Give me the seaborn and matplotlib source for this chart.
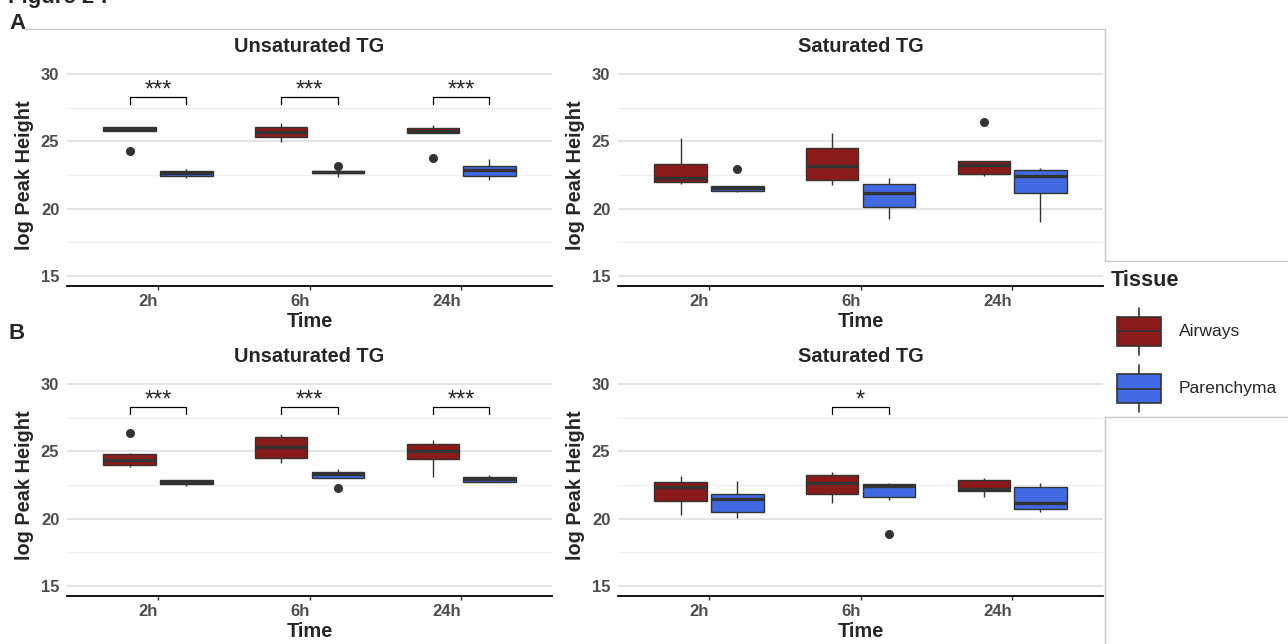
import numpy as np
import pandas as pd
import seaborn as sns
import matplotlib.pyplot as plt
from matplotlib.patches import Rectangle

sns.set_theme(style="white")
plt.rcParams['font.family'] = ['Liberation Sans', 'DejaVu Sans']

times = ["2h", "6h", "24h"]
tissues = ["Airways", "Parenchyma"]
colors = {"Airways": "#8B1A1A", "Parenchyma": "#4169E1"}

# log peak heights per time point (2h, 6h, 24h), read off the boxes
# A - unsaturated TG
a_unsat_airways = [
    [24.31, 25.79, 25.79, 25.87, 25.94, 26.02, 26.09, 26.10, 26.10],
    [24.98, 25.35, 25.72, 26.09, 26.39],
    [23.74, 25.59, 25.59, 25.69, 25.79, 25.90, 26.01, 26.11, 26.21],
]
a_unsat_parenchyma = [
    [22.30, 22.45, 22.62, 22.77, 22.95],
    [22.35, 22.50, 22.62, 22.67, 22.72, 22.77, 22.82, 22.85, 23.19],
    [22.13, 22.43, 22.87, 23.19, 23.69],
]
a_unsat_stars = ["***", "***", "***"]

# A - saturated TG
a_sat_airways = [
    [21.81, 21.98, 22.30, 23.32, 25.22],
    [21.73, 22.13, 23.19, 24.48, 25.59],
    [22.43, 22.49, 22.55, 22.90, 23.22, 23.37, 23.51, 23.51, 26.46],
]
a_sat_parenchyma = [
    [21.26, 21.28, 21.31, 21.41, 21.51, 21.61, 21.71, 21.71, 22.92],
    [19.26, 20.15, 21.14, 21.86, 22.25],
    [19.00, 21.19, 22.43, 22.87, 23.00],
]
a_sat_stars = ["", "", ""]

# B - unsaturated TG
b_unsat_airways = [
    [23.81, 23.90, 23.99, 24.18, 24.36, 24.57, 24.78, 24.90, 26.36],
    [24.11, 24.48, 25.35, 26.04, 26.26],
    [23.12, 24.41, 25.00, 25.57, 25.82],
]
b_unsat_parenchyma = [
    [22.45, 22.57, 22.72, 22.85, 22.90],
    [22.28, 23.00, 23.05, 23.17, 23.29, 23.37, 23.45, 23.55, 23.66],
    [22.70, 22.75, 22.92, 23.09, 23.22],
]
b_unsat_stars = ["***", "***", "***"]

# B - saturated TG
b_sat_airways = [
    [20.30, 21.31, 22.38, 22.70, 23.19],
    [21.14, 21.86, 22.62, 23.24, 23.49],
    [21.58, 22.05, 22.18, 22.85, 23.04],
]
b_sat_parenchyma = [
    [20.02, 20.47, 21.44, 21.81, 22.80],
    [18.86, 21.39, 21.63, 22.04, 22.45, 22.53, 22.60, 22.64, 22.67],
    [20.47, 20.69, 21.14, 22.35, 22.67],
]
b_sat_stars = ["", "*", ""]


def make_df(airways, parenchyma):
    rows = []
    for tissue, groups in (("Airways", airways), ("Parenchyma", parenchyma)):
        for t, vals in zip(times, groups):
            for v in vals:
                rows.append((t, tissue, v))
    return pd.DataFrame(rows, columns=["Time", "Tissue", "value"])


W, H = 1288, 644
fig = plt.figure(figsize=(W / 100, H / 100), dpi=100)


def px_axes(x0, y0, x1, y1, **kw):
    return fig.add_axes([x0 / W, 1 - y1 / H, (x1 - x0) / W, (y1 - y0) / H], **kw)


# overlay for panel tags and patchwork borders
oax = px_axes(0, 0, W, H)
oax.set_xlim(0, W)
oax.set_ylim(H, 0)
oax.axis("off")
border = "#C8C8C8"
for xs, ys in [([25, 1105], [29, 29]), ([1105, 1105], [29, 261]),
               ([1105, W], [261, 261]), ([1105, W], [417, 417]),
               ([1105, 1105], [417, H])]:
    oax.plot(xs, ys, color=border, lw=1)
oax.text(8, 3, "Figure 2 :", fontsize=16, fontweight="bold", va="baseline")
oax.text(9, 29, "A", fontsize=16, fontweight="bold", va="baseline")
oax.text(9, 339, "B", fontsize=16, fontweight="bold", va="baseline")

panels = [
    (67, 64, "Unsaturated TG", a_unsat_airways, a_unsat_parenchyma, a_unsat_stars),
    (618, 64, "Saturated TG", a_sat_airways, a_sat_parenchyma, a_sat_stars),
    (67, 374, "Unsaturated TG", b_unsat_airways, b_unsat_parenchyma, b_unsat_stars),
    (618, 374, "Saturated TG", b_sat_airways, b_sat_parenchyma, b_sat_stars),
]

for x0, y0, title, air, par, stars in panels:
    ax = px_axes(x0, y0, x0 + 485, y0 + 222)
    df = make_df(air, par)
    sns.boxplot(
        data=df, x="Time", y="value", hue="Tissue",
        order=times, hue_order=tissues, palette=colors,
        width=0.75, gap=0.08, linecolor="#333333", linewidth=1.0,
        fliersize=5.5, showcaps=False, saturation=1,
        medianprops={"linewidth": 2.4, "color": "#333333"},
        flierprops={"marker": "o", "markerfacecolor": "#333333",
                    "markeredgecolor": "#333333"},
        legend=False, ax=ax,
    )
    for i, s in enumerate(stars):
        if not s:
            continue
        ax.plot([i - 0.1875, i - 0.1875, i + 0.1875, i + 0.1875],
                [27.75, 28.27, 28.27, 27.75], color="black", lw=0.9)
        ax.text(i, 28.3, s, ha="center", va="baseline", fontsize=17)

    ax.set_xlim(-0.6, 2.6)
    ax.set_ylim(14.25, 30.75)
    ax.set_yticks([15, 20, 25, 30])
    ax.set_yticks([17.5, 22.5, 27.5], minor=True)
    ax.grid(axis="y", which="major", color="#DCDCDC", lw=1.1)
    ax.grid(axis="y", which="minor", color="#F0F0F0", lw=0.9)
    ax.grid(axis="x", visible=False)
    ax.set_axisbelow(True)
    for side in ["top", "right", "left"]:
        ax.spines[side].set_visible(False)
    ax.spines["bottom"].set_color("black")
    ax.spines["bottom"].set_linewidth(1.3)
    ax.tick_params(axis="y", which="both", length=0, pad=5.5,
                   labelsize=12, labelcolor="#4D4D4D")
    ax.tick_params(axis="x", length=3, width=1, color="#333333", pad=3,
                   labelsize=12, labelcolor="#4D4D4D", bottom=True)
    for lab in ax.get_xticklabels() + ax.get_yticklabels():
        lab.set_fontweight("bold")
    # ggplot labels here end at the tick (hjust = 1)
    for lab in ax.get_xticklabels():
        lab.set_ha("right")
    ax.set_xlabel("Time", fontsize=14.4, fontweight="bold", labelpad=2)
    ax.set_ylabel("log Peak Height", fontsize=14.4, fontweight="bold", labelpad=5)
    ax.set_title(title, fontsize=14.4, fontweight="bold", pad=9)

# legend
lax = px_axes(1105, 262, W, 417)
lax.set_xlim(1105, W)
lax.set_ylim(417, 262)
lax.axis("off")
lax.text(1111, 281, "Tissue", fontsize=15.7, fontweight="bold", va="center")
for tissue, top in zip(tissues, [317, 374]):
    lax.plot([1139, 1139], [top - 9, top + 38], color="#333333", lw=1.2)
    lax.add_patch(Rectangle((1117, top), 44, 29, facecolor=colors[tissue],
                            edgecolor="#333333", lw=1.2, zorder=3))
    lax.plot([1117, 1161], [top + 14.5, top + 14.5], color="#333333", lw=1.2, zorder=4)
    lax.text(1179, top + 15, tissue, fontsize=12.6, va="center")

fig.savefig("out.png", dpi=100)
